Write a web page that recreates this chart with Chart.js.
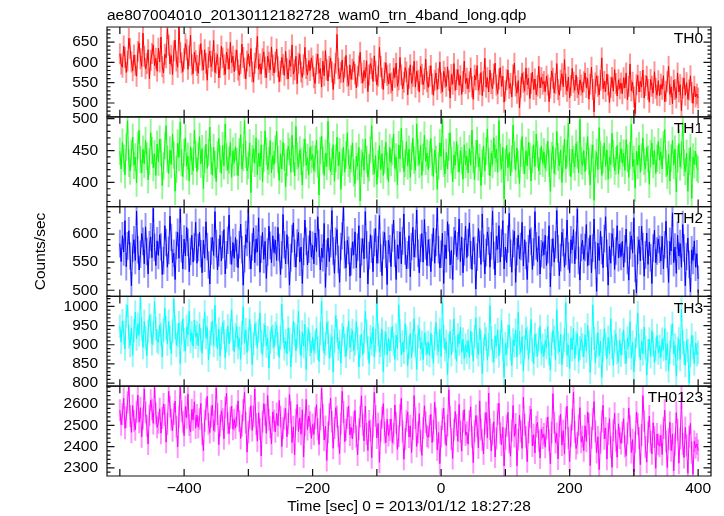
<!DOCTYPE html>
<html><head><meta charset="utf-8">
<script src="https://cdn.jsdelivr.net/npm/chart.js@4/dist/chart.umd.min.js"></script>
<style>html,body{margin:0;padding:0;background:#fff}</style>
</head><body>
<canvas id="c" width="724" height="516"></canvas>
<script>
// ---- data (count rates, 2 s sampling from -500 s to +400 s) ----
const timeStart = -500;
const timeStep = 2;
const panelNames = ['TH0', 'TH1', 'TH2', 'TH3', 'TH0123'];
const th0Values = [
621,596,588,640,612,575,603,659,634,601,579,618,593,566,627,648,609,590,672,615,584,597,631,560,605,622,643,592,610,578,
635,601,662,589,574,620,611,683,642,596,617,570,628,655,603,588,690,624,599,577,609,646,631,583,616,667,594,572,625,604,
592,573,618,646,605,581,631,597,556,612,628,589,603,654,575,598,619,562,587,640,611,594,570,625,608,583,649,599,615,577,
606,630,581,568,597,645,612,586,559,603,621,590,634,577,551,598,611,664,583,596,572,609,626,588,562,615,600,581,638,593,
574,601,633,589,552,578,612,595,568,627,584,559,606,590,643,571,582,615,547,598,620,576,563,594,637,585,569,604,580,611,
591,562,548,596,620,573,585,539,603,567,629,581,554,590,611,576,533,572,598,669,584,560,575,606,551,588,617,566,543,594,
558,583,602,571,537,566,591,625,574,549,580,562,604,528,569,597,585,553,616,578,544,566,637,590,561,533,575,599,568,547,
572,549,530,585,563,598,541,557,612,569,535,551,587,576,520,561,594,548,566,603,539,578,556,527,590,571,545,559,608,552,
538,566,592,547,519,556,574,533,560,601,549,527,578,563,541,589,555,512,570,546,597,531,558,582,544,567,521,553,603,548,
561,535,552,586,540,509,568,557,592,531,546,575,518,553,610,539,562,527,581,548,535,571,598,544,523,559,587,541,566,502,
530,557,581,536,548,515,569,598,542,524,555,488,539,573,551,529,586,545,561,511,548,576,533,559,520,542,590,537,563,546,
553,528,566,544,503,537,579,561,525,548,597,533,519,556,572,540,607,546,529,564,512,543,585,551,531,569,538,521,557,544,
526,552,574,538,561,509,546,588,533,478,549,567,541,520,556,611,535,553,528,571,544,501,539,563,529,582,548,517,557,535,
549,523,562,537,574,508,541,596,530,551,515,474,545,568,527,553,539,581,512,543,566,533,502,558,541,524,577,536,519,555,
518,546,534,567,503,529,552,590,521,540,498,556,533,512,574,527,545,481,537,561,519,550,509,532,567,526,499,541,515,522,
512];
const th1Values = [
449,421,463,438,412,455,497,430,418,446,471,427,440,399,458,482,436,415,452,429,466,441,404,433,478,450,423,445,411,460,
432,468,447,395,426,458,489,437,414,451,428,476,443,386,420,462,439,495,431,409,447,470,425,441,402,456,433,418,482,444,
417,441,472,429,453,390,436,460,422,447,487,434,411,455,428,401,443,469,437,414,458,426,492,440,419,435,463,408,449,431,
456,433,410,448,475,421,439,497,444,418,427,462,384,437,453,430,470,412,446,425,459,401,438,481,449,420,434,466,415,442,
428,452,480,436,403,445,421,463,440,393,431,457,448,416,474,437,410,488,442,424,451,433,396,447,468,427,439,412,455,436,
444,419,437,466,429,380,450,473,435,411,446,425,496,441,417,433,459,402,438,471,426,448,389,432,455,416,443,478,430,421,
437,462,415,398,441,425,455,371,430,447,419,468,436,408,423,451,489,433,414,442,397,429,458,420,445,411,435,463,426,401,
455,431,448,476,422,440,396,459,437,485,444,417,430,464,426,452,408,441,469,435,419,492,447,428,458,411,439,474,433,446,
420,444,469,432,409,451,436,389,426,462,441,499,430,413,447,421,456,478,435,401,443,427,464,438,416,450,434,405,459,428,
441,415,453,427,482,436,404,445,466,424,439,395,430,457,418,449,484,433,410,446,428,470,438,452,416,497,440,421,455,374,
432,458,423,447,410,437,490,443,419,454,429,398,446,472,435,413,450,426,463,441,402,436,459,425,476,444,418,433,457,430,
448,422,439,465,430,386,442,457,414,433,480,440,426,451,400,437,468,421,445,493,431,409,452,436,424,461,443,415,499,434,
426,450,417,441,472,433,396,438,459,372,429,447,420,486,443,411,436,462,425,451,405,440,428,477,445,418,434,458,413,442,
453,430,446,419,467,438,408,442,491,425,436,391,449,427,458,416,440,470,433,421,455,437,397,445,462,428,450,414,438,464,
435,448,421,459,483,430,411,444,402,438,466,427,452,385,437,461,424,443,494,431,417,446,386,433,455,375,440,428,449,423,
420];
const th2Values = [
583,551,597,568,624,542,579,606,561,508,575,590,553,641,572,536,564,601,587,547,613,569,529,581,595,558,646,576,544,588,
562,599,577,528,553,615,585,541,571,632,594,549,566,519,580,603,557,645,574,538,591,561,612,585,533,569,598,550,577,621,
548,576,603,565,531,589,557,622,578,545,511,570,594,562,640,583,536,567,598,552,581,608,529,563,589,634,571,546,585,557,
594,566,540,581,618,572,509,556,599,585,644,562,538,577,611,549,591,568,629,532,573,603,555,587,521,568,614,580,549,597,
567,589,553,612,576,528,563,635,581,547,599,571,509,558,592,620,566,541,584,603,550,577,512,569,625,587,545,573,606,559,
580,547,602,569,631,584,536,575,558,619,505,566,593,551,583,642,570,530,587,608,555,514,578,597,648,563,540,589,571,525,
551,586,563,604,540,577,615,522,568,592,556,640,581,511,562,599,573,533,585,610,548,572,633,557,526,580,603,564,510,589,
574,542,593,625,566,519,581,556,604,547,588,636,570,538,563,597,524,578,612,559,583,643,566,531,575,601,550,626,579,544,
590,567,533,576,611,548,585,647,572,540,564,602,512,581,556,622,593,545,571,519,588,606,560,579,627,551,595,531,568,614,
558,585,620,563,537,594,571,502,559,610,582,546,636,575,529,567,604,588,541,579,641,562,527,596,573,615,550,584,624,538,
577,549,591,637,566,532,583,605,514,569,598,556,578,621,543,590,562,519,574,608,587,537,568,640,579,551,596,529,565,585,
563,598,544,572,615,506,567,592,550,581,642,574,526,558,603,585,541,569,625,561,531,590,572,608,547,580,645,553,518,576,
589,555,576,617,543,569,598,531,575,627,562,498,584,553,605,571,540,592,631,566,509,578,548,601,586,537,570,615,558,582,
560,587,541,574,609,553,518,580,597,566,629,539,495,571,590,552,614,578,525,563,602,546,586,558,512,575,607,549,570,591,
573,552,596,538,581,623,564,514,587,570,638,549,577,530,598,561,583,541,617,575,508,560,593,546,497,572,553,588,541,565,
520];
const th3Values = [
948,907,962,931,889,975,1003,921,898,944,872,936,985,915,953,926,1024,940,893,961,918,871,934,977,950,903,929,1012,942,910,
906,951,927,868,938,995,944,902,961,919,877,935,1019,946,899,925,957,851,932,968,913,884,947,926,988,909,931,896,964,920,
931,897,954,913,878,936,986,919,945,860,907,928,962,898,1003,924,889,941,871,917,958,933,866,911,949,902,937,991,915,882,
925,948,893,917,862,931,999,904,939,880,915,967,922,848,903,954,929,891,937,983,909,873,926,951,897,918,839,906,946,921,
894,929,951,902,867,918,1006,935,889,910,876,944,913,842,899,961,927,884,922,988,906,871,933,896,953,836,915,940,901,879,
920,884,907,943,891,856,929,1013,915,878,902,958,932,865,897,921,829,911,976,936,889,909,852,926,948,898,870,915,962,893,
912,937,885,903,961,917,842,896,928,874,909,987,935,892,851,920,902,946,868,911,1010,926,880,899,941,830,905,932,873,916,
884,915,948,901,862,925,890,1004,936,873,907,881,955,919,845,893,929,866,911,968,898,836,921,942,889,906,861,930,903,877,
906,872,930,896,851,915,958,903,882,940,869,1012,921,887,908,822,897,935,874,911,967,893,857,926,902,946,880,914,864,899,
881,910,867,936,902,857,921,970,895,874,943,908,825,889,927,915,860,900,1002,918,884,856,923,896,939,871,909,963,887,815,
903,875,922,951,889,846,912,897,938,868,985,905,880,921,832,894,943,917,862,909,966,886,851,927,899,871,913,948,877,898,
870,911,893,947,876,834,902,937,919,860,991,906,881,928,848,895,912,1010,873,899,838,918,887,943,864,904,929,856,891,915,
899,868,926,884,951,906,828,889,1004,917,853,897,932,871,910,815,888,942,901,864,919,877,968,893,846,908,929,880,855,912,
873,903,939,881,852,917,895,960,866,906,829,888,922,983,898,861,910,876,946,893,821,884,915,869,937,901,853,888,924,879,
896,868,914,887,942,861,903,832,881,922,955,876,899,818,890,915,862,992,907,879,846,911,885,800,872,925,893,851,904,874,
880];
const th0123Values = [
2571,2503,2552,2627,2486,2538,2609,2688,2544,2467,2593,2521,2479,2564,2642,2515,2583,2446,2532,2671,2560,2498,2412,2547,2618,2575,2509,2680,2556,2490,
2512,2578,2463,2535,2601,2549,2421,2506,2660,2588,2527,2475,2553,2614,2494,2398,2541,2679,2566,2517,2452,2589,2536,2648,2501,2469,2574,2526,2611,2487,
2549,2491,2530,2603,2458,2381,2522,2576,2637,2507,2466,2541,2596,2475,2519,2676,2553,2409,2498,2568,2529,2437,2584,2651,2510,2462,2535,2591,2482,2527,
2487,2546,2615,2520,2438,2499,2571,2655,2512,2374,2468,2533,2592,2476,2541,2671,2506,2426,2559,2483,2356,2518,2602,2550,2463,2640,2527,2491,2412,2563,
2522,2470,2556,2498,2617,2541,2400,2487,2531,2579,2446,2508,2645,2562,2419,2493,2362,2527,2598,2471,2535,2458,2573,2351,2502,2622,2480,2544,2515,2439,
2504,2458,2533,2597,2482,2410,2528,2674,2549,2431,2495,2335,2466,2552,2628,2517,2392,2488,2583,2540,2449,2367,2509,2660,2562,2423,2479,2536,2591,2455,
2491,2436,2515,2570,2448,2361,2482,2541,2639,2503,2427,2590,2459,2382,2521,2476,2348,2496,2655,2545,2441,2509,2326,2473,2537,2602,2466,2419,2528,2452,
2478,2530,2419,2461,2596,2512,2387,2449,2548,2627,2471,2341,2436,2521,2563,2445,2498,2373,2482,2640,2534,2401,2466,2555,2428,2359,2487,2592,2514,2450,
2443,2497,2552,2419,2475,2609,2531,2384,2466,2320,2447,2528,2581,2462,2405,2498,2667,2541,2436,2344,2479,2565,2502,2425,2598,2471,2379,2518,2574,2454,
2468,2411,2521,2587,2446,2325,2472,2546,2496,2394,2615,2480,2432,2365,2509,2560,2441,2652,2483,2380,2457,2517,2351,2438,2554,2603,2463,2408,2491,2309,
2437,2498,2561,2420,2355,2476,2593,2448,2507,2310,2433,2548,2471,2392,2632,2503,2446,2329,2468,2539,2577,2403,2456,2370,2494,2515,2428,2346,2482,2441,
2459,2397,2485,2540,2430,2318,2466,2649,2512,2419,2462,2342,2496,2552,2407,2475,2365,2533,2590,2441,2330,2452,2527,2656,2470,2391,2416,2501,2583,2421,
2448,2381,2498,2425,2563,2507,2311,2442,2530,2612,2472,2372,2446,2292,2419,2519,2594,2437,2488,2341,2459,2532,2398,2303,2476,2557,2428,2350,2507,2440,
2415,2467,2531,2401,2358,2462,2582,2496,2372,2433,2281,2420,2563,2506,2441,2315,2455,2640,2521,2398,2327,2468,2544,2423,2366,2512,2445,2298,2459,2411,
2402,2453,2363,2487,2571,2425,2302,2436,2515,2381,2460,2286,2410,2560,2479,2322,2437,2630,2412,2349,2490,2405,2275,2448,2509,2371,2270,2426,2395,2413,
2382];
const seriesErrors = [25, 21, 24, 30, 50];          // 1-sigma error bars (counts/sec)
const yMins = [466, 362, 489, 792, 2262];
const yMaxs = [687, 503, 649, 1026, 2684];
const yTickValues = [[500,550,600,650],[400,450,500],[500,550,600],[800,850,900,950,1000],[2300,2400,2500,2600]];
const yMinorSteps = [10, 10, 10, 10, 20];
const xTickValues = [-400, -200, 0, 200, 400];
const xMinorTicks = [-500, -400, -300, -200, -100, 0, 100, 200, 300, 400];
const titleText = 'ae807004010_20130112182728_wam0_trn_4band_long.qdp';
const xTitleText = 'Time [sec] 0 = 2013/01/12 18:27:28';
const yTitleText = 'Counts/sec';

// ---- styling ----
const lineColors = ['#ff0000', '#00ff00', '#0000ff', '#00ffff', '#ff00ff'];
const errColors = ['rgba(255,0,0,0.42)', 'rgba(0,235,0,0.42)', 'rgba(0,0,255,0.42)', 'rgba(0,235,235,0.42)', 'rgba(255,0,255,0.42)'];
const FONT = '"Liberation Sans", Arial, Helvetica, sans-serif';
const FS = 15.5;
const seriesValues = [th0Values, th1Values, th2Values, th3Values, th0123Values];

const datasets = [];
seriesValues.forEach((vals, i) => {
  const times = vals.map((_, k) => timeStart + k * timeStep);
  datasets.push({
    type: 'bar', label: panelNames[i] + ' err', yAxisID: 'y' + i, xAxisID: 'x',
    data: vals.map((v, k) => ({x: times[k], y: [v - seriesErrors[i], v + seriesErrors[i]]})),
    backgroundColor: errColors[i], borderWidth: 0, barThickness: 1.3, grouped: false, order: 2
  });
  datasets.push({
    type: 'line', label: panelNames[i], yAxisID: 'y' + i, xAxisID: 'x',
    data: vals.map((v, k) => ({x: times[k], y: v})),
    borderColor: lineColors[i], borderWidth: 1, pointRadius: 0, tension: 0, order: 1
  });
});

const fmt = v => (v < 0 ? '\u2212' + Math.abs(v) : String(v));

const scales = {
  x: {
    type: 'linear', position: 'bottom', min: -520, max: 420, offset: false,
    afterBuildTicks: s => { s.ticks = xTickValues.map(v => ({value: v})); },
    afterFit: s => { s.height = 40; },
    grid: {display: false, drawTicks: false}, border: {display: false},
    ticks: {callback: v => fmt(v), color: '#000', font: {family: FONT, size: FS}, padding: 3, maxRotation: 0, autoSkip: false},
    title: {display: true, text: xTitleText, color: '#000', font: {family: FONT, size: FS}, padding: {top: 0, bottom: 0}}
  }
};
panelNames.forEach((n, i) => {
  scales['y' + i] = {
    type: 'linear', position: 'left', stack: 'panels', stackWeight: 1, weight: 10 - i,
    min: yMins[i], max: yMaxs[i],
    afterBuildTicks: s => { s.ticks = yTickValues[i].map(v => ({value: v})); },
    afterFit: s => { s.width = 107; },
    grid: {display: false, drawTicks: false}, border: {display: false},
    ticks: {color: '#000', font: {family: FONT, size: FS}, padding: 9, autoSkip: false, callback: v => fmt(v)},
    title: {display: i === 2, text: yTitleText, color: '#000', font: {family: FONT, size: FS}, padding: {top: 31, bottom: 0}}
  };
});

const framePlugin = {
  id: 'qdpFrame',
  afterDatasetsDraw(chart) {
    const ctx = chart.ctx, area = chart.chartArea, xs = chart.scales.x;
    ctx.save();
    ctx.strokeStyle = '#111';
    ctx.lineWidth = 1.2;
    panelNames.forEach((name, i) => {
      const ys = chart.scales['y' + i];
      const top = ys.top, bot = ys.bottom;
      ctx.beginPath();
      ctx.rect(area.left, top, area.right - area.left, bot - top);
      const step = yMinorSteps[i];
      const majorStep = yTickValues[i][1] - yTickValues[i][0];
      for (let v = Math.ceil(ys.min / step) * step; v <= ys.max; v += step) {
        const py = ys.getPixelForValue(v);
        const len = (v % majorStep === 0) ? 7.5 : 3.5;
        ctx.moveTo(area.left, py); ctx.lineTo(area.left + len, py);
        ctx.moveTo(area.right, py); ctx.lineTo(area.right - len, py);
      }
      xMinorTicks.forEach(v => {
        const px = xs.getPixelForValue(v);
        ctx.moveTo(px, top); ctx.lineTo(px, top + 7);
        ctx.moveTo(px, bot); ctx.lineTo(px, bot - 7);
      });
      ctx.stroke();
      ctx.fillStyle = '#000';
      ctx.font = FS + 'px ' + FONT;
      ctx.textAlign = 'right';
      ctx.textBaseline = 'middle';
      ctx.fillText(name, area.right - 8, top + 12);
    });
    ctx.restore();
  }
};

new Chart(document.getElementById('c'), {
  type: 'line',
  data: {datasets},
  options: {
    responsive: false, devicePixelRatio: 1, animation: false,
    layout: {padding: {left: 0, right: 13, top: 0, bottom: 0}},
    plugins: {
      legend: {display: false}, tooltip: {enabled: false},
      title: {display: true, text: titleText, align: 'start', fullSize: false, color: '#000',
              font: {family: FONT, size: FS, weight: 'normal'}, padding: {top: 6, bottom: 2.4}}
    },
    scales
  },
  plugins: [framePlugin]
});
</script>
</body></html>
